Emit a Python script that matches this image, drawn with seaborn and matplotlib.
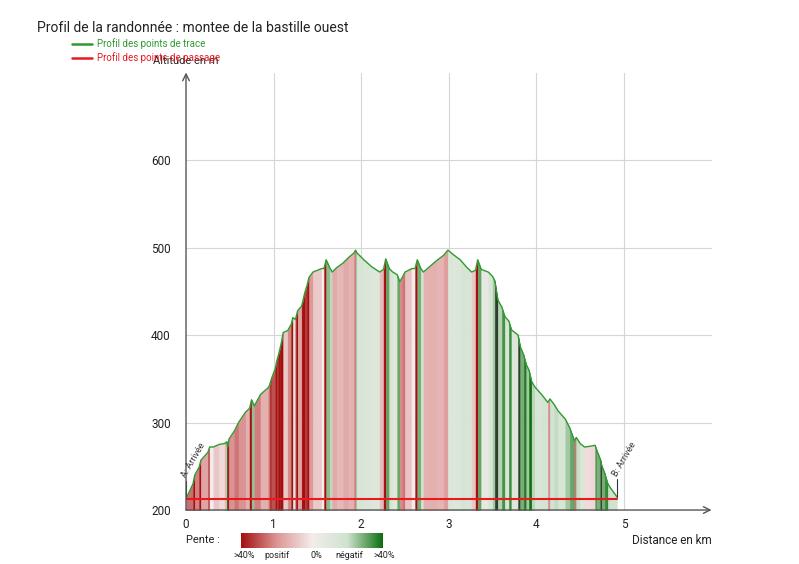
import numpy as np
import pandas as pd
import matplotlib
matplotlib.use("Agg")
import matplotlib.pyplot as plt
import seaborn as sns
from matplotlib.colors import LinearSegmentedColormap, to_rgb
from matplotlib.lines import Line2D

# profile (distance km, altitude m)
distance_km = [0.00, 0.08, 0.10, 0.15, 0.17, 0.25, 0.27, 0.31, 0.38, 0.44,
               0.465, 0.475, 0.49, 0.55, 0.60, 0.68, 0.725, 0.748, 0.78, 0.85,
               0.94, 0.955, 0.975, 1.02, 1.035, 1.05, 1.07, 1.09, 1.11, 1.16,
               1.20, 1.22, 1.245, 1.255, 1.275, 1.32, 1.33, 1.355, 1.38, 1.405,
               1.45, 1.55, 1.575, 1.60, 1.64, 1.67, 1.72, 1.79, 1.86, 1.92,
               1.935, 1.95, 2.03, 2.12, 2.21, 2.255, 2.28, 2.32, 2.36, 2.41,
               2.44, 2.47, 2.50, 2.58, 2.615, 2.64, 2.68, 2.71, 2.78, 2.86,
               2.94, 2.99, 3.05, 3.13, 3.20, 3.26, 3.305, 3.33, 3.37, 3.45,
               3.50, 3.525, 3.56, 3.605, 3.64, 3.685, 3.715, 3.79, 3.815, 3.855,
               3.885, 3.915, 3.945, 3.98, 4.06, 4.13, 4.155, 4.20, 4.25, 4.33,
               4.38, 4.435, 4.455, 4.50, 4.55, 4.62, 4.67, 4.69, 4.73, 4.745,
               4.78, 4.815, 4.84, 4.92]
altitude_m = [213, 230, 240, 249, 257, 266, 272, 272, 275, 276,
              278, 272, 281, 290, 300, 312, 316, 326, 319, 332,
              340, 343, 350, 362, 370, 375, 383, 392, 403, 405,
              412, 420, 418, 420, 428, 433, 437, 448, 456, 466,
              472, 476, 476, 486, 477, 472, 477, 482, 489, 494,
              497, 494, 486, 478, 472, 475, 487, 476, 472, 469,
              461, 466, 472, 476, 476, 486, 476, 472, 478, 485,
              491, 497, 492, 486, 478, 472, 474, 486, 475, 472,
              467, 462, 440, 432, 421, 416, 406, 400, 387, 377,
              366, 360, 347, 341, 332, 323, 327, 321, 313, 304,
              294, 279, 283, 276, 272, 273, 274, 268, 258, 251,
              242, 230, 226, 215]

# waypoint line (red) and markers
waypoint_km = [0.00, 4.92]
waypoint_alt = [212.5, 212.5]
marker_km = [0.00, 4.92]
marker_names = ["A: Arrivée", "B: Arrivée"]

y_ticks = [200, 300, 400, 500, 600]
x_ticks = [0, 1, 2, 3, 4, 5]

slope_colors = ["#a40f0f", "#dc9494", "#f4ecec", "#cfe3cf", "#0d6e0d"]

sns.set_theme(style="white")
plt.rcParams["font.family"] = ["Roboto", "DejaVu Sans"]

fig = plt.figure(figsize=(7.99, 5.64), dpi=100)
ax = fig.add_axes([0.2328, 0.0957, 0.6578, 0.7757])

cmap = LinearSegmentedColormap.from_list("pente", slope_colors)

df = pd.DataFrame({"km": distance_km, "alt": altitude_m})
df["slope"] = df["alt"].diff().shift(-1) / (df["km"].diff().shift(-1) * 1000)

# one coloured band per segment, coloured by slope (40% = end of the scale)
for i in range(len(df) - 1):
    s = df["slope"].iloc[i]
    t = np.sign(s) * min(abs(s) / 0.4, 1) ** 0.7
    c = np.array(cmap(0.5 - t / 2)[:3])
    if s < -0.45 and df["km"].iloc[i] > 3.5:
        c = 0.2 * c + 0.8 * np.array(to_rgb("#333333"))
    ax.fill_between(df["km"].iloc[i:i + 2], 200, df["alt"].iloc[i:i + 2],
                    color=c, linewidth=0.3, edgecolor=c)

sns.lineplot(data=df, x="km", y="alt", ax=ax, color="#2f9a2f",
             linewidth=1.0, sort=False, estimator=None)
sns.lineplot(x=waypoint_km, y=waypoint_alt, ax=ax, color="#e8191e",
             linewidth=1.5, sort=False, estimator=None)

ax.set_xlim(0, 6)
ax.set_ylim(200, 700)
for sp in ax.spines.values():
    sp.set_visible(False)

# grid
for v in y_ticks[1:]:
    ax.axhline(v, color="#d6d6d6", linewidth=0.8, zorder=0)
for v in x_ticks[1:]:
    ax.axvline(v, color="#d6d6d6", linewidth=0.8, zorder=0)

# axes with arrows
ax.annotate("", xy=(0, 700), xytext=(0, 200),
            arrowprops=dict(arrowstyle="->", color="#555555", lw=1.0,
                            shrinkA=0, shrinkB=0), annotation_clip=False)
ax.annotate("", xy=(6.0, 200), xytext=(0, 200),
            arrowprops=dict(arrowstyle="->", color="#555555", lw=1.0,
                            shrinkA=0, shrinkB=0), annotation_clip=False)

ax.set_xticks(x_ticks)
ax.set_yticks(y_ticks)
ax.tick_params(axis="both", direction="out", length=3, width=0.8,
               color="#555555", labelsize=8.5, labelcolor="#222222", pad=4)
ax.tick_params(axis="y", pad=8)
ax.tick_params(axis="x", pad=3)
ax.set_xlabel("")
ax.set_ylabel("")

ax.text(0, 708, "Altitude en m", ha="center", va="bottom", fontsize=8,
        color="#222222")
ax.text(6.0, 165, "Distance en km", ha="right", va="center", fontsize=8.5,
        color="#222222", clip_on=False)

# start / end markers
for k, name in zip(marker_km, marker_names):
    a = float(np.interp(k, distance_km, altitude_m))
    ax.plot([k, k], [a, a + 20], color="#333344", linewidth=0.8)
    ax.text(k + 0.02, a + 22, name, rotation=60, fontsize=6.5,
            color="#333333", ha="left", va="bottom", rotation_mode="anchor")

# title and legend
fig.text(37 / 799, 1 - 28 / 564, "Profil de la randonnée : montee de la bastille ouest",
         fontsize=10, color="#222222", va="center")
fig.add_artist(Line2D([72 / 799, 92 / 799], [1 - 44 / 564] * 2,
                      color="#2f9a2f", linewidth=1.8))
fig.text(97 / 799, 1 - 44 / 564, "Profil des points de trace", fontsize=7,
         color="#2f9a2f", va="center")
fig.add_artist(Line2D([72 / 799, 92 / 799], [1 - 58 / 564] * 2,
                      color="#e8191e", linewidth=1.8))
fig.text(97 / 799, 1 - 58 / 564, "Profil des points de passage", fontsize=7,
         color="#e8191e", va="center")

# slope colour bar
cax = fig.add_axes([241 / 799, 1 - 548 / 564, 141 / 799, 15 / 564])
cax.imshow(np.linspace(0, 1, 256)[None, :], aspect="auto", cmap=cmap)
cax.set_axis_off()
fig.text(186 / 799, 1 - 540 / 564, "Pente :", fontsize=8, color="#222222",
         va="center")
for px, lab in [(244, ">40%"), (277, "positif"), (316, "0%"),
                (349, "négatif"), (384, ">40%")]:
    fig.text(px / 799, 1 - 555 / 564, lab, fontsize=6.5, color="#222222",
             ha="center", va="center")

fig.savefig("out.png", dpi=100)
